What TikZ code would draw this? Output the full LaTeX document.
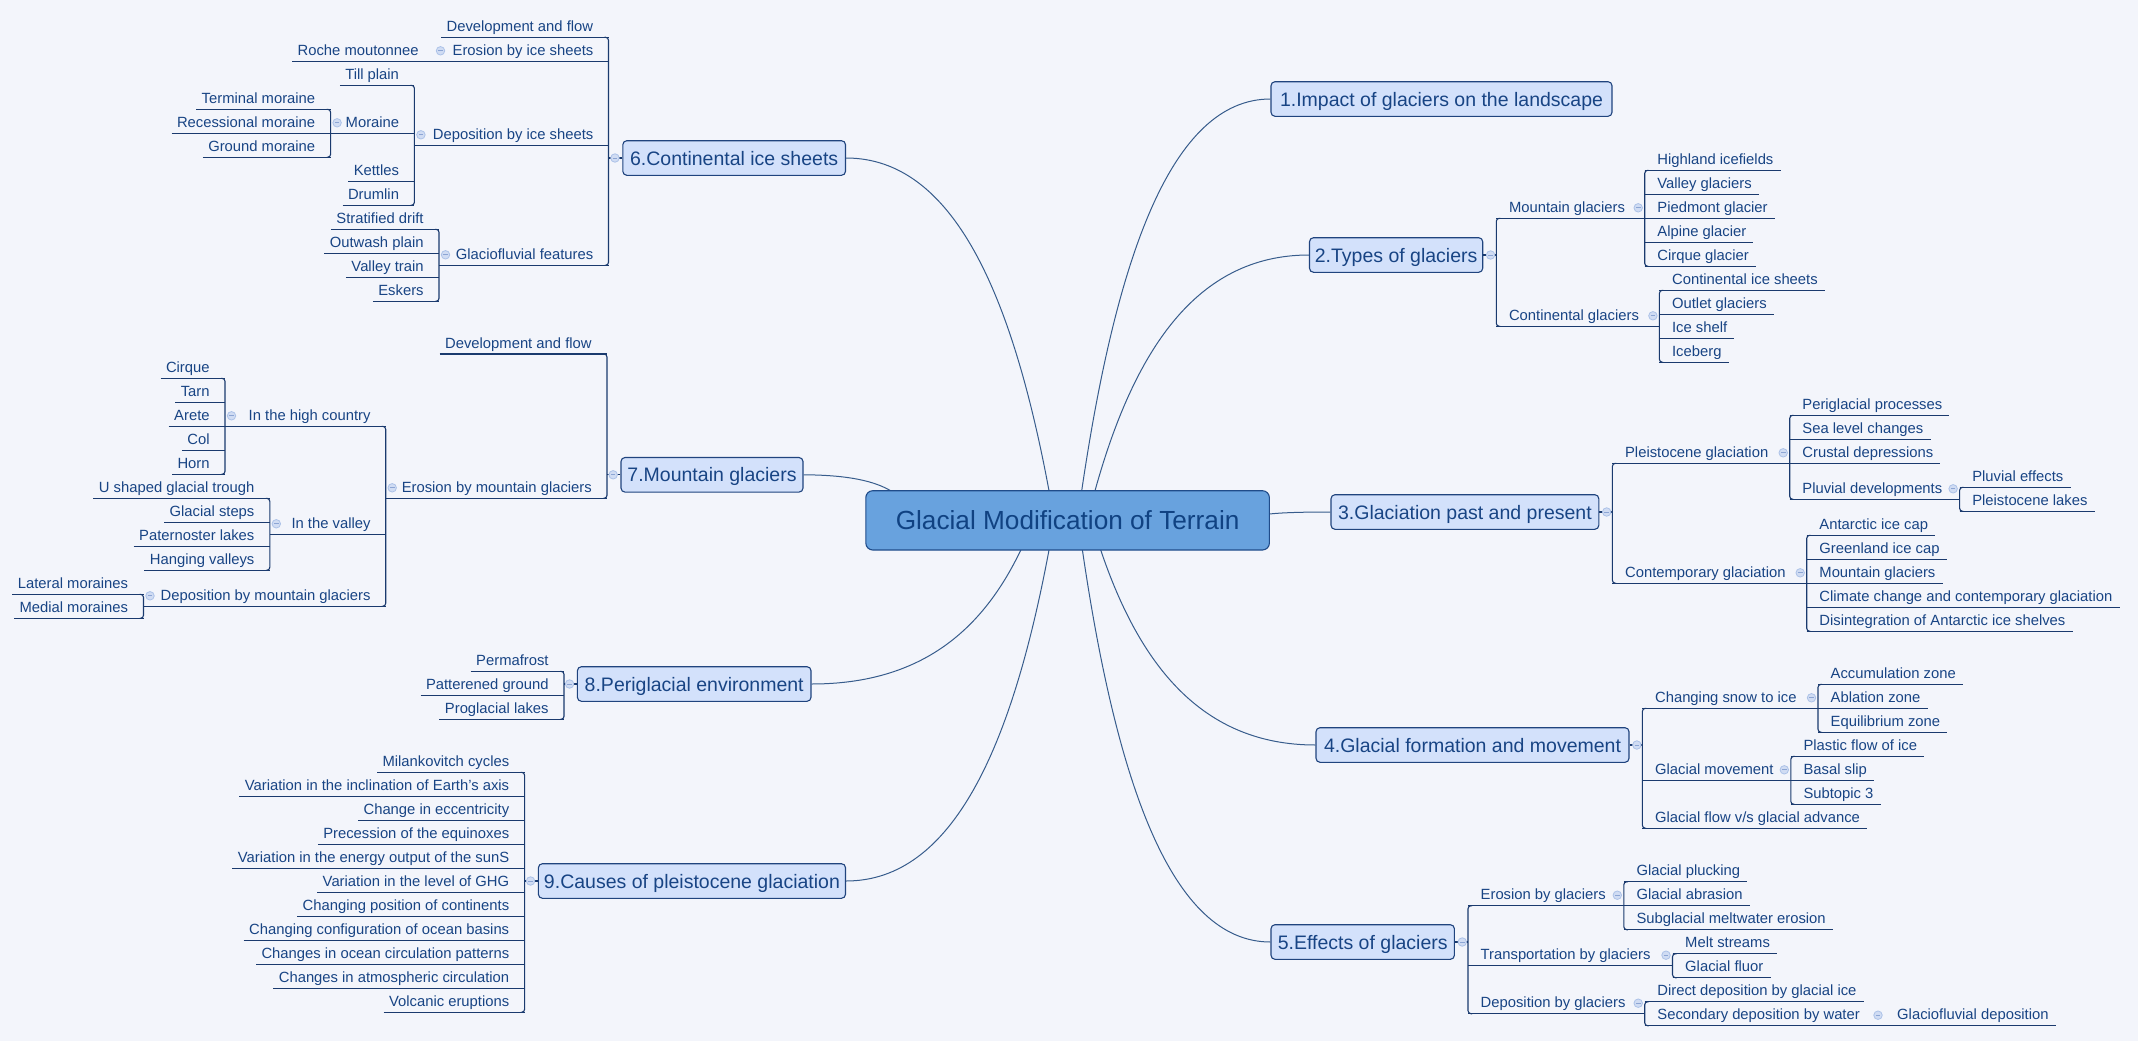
\documentclass[tikz,border=0pt]{standalone}
\usepackage{fontspec}
\setmainfont{Liberation Sans}
\usetikzlibrary{calc}
\definecolor{bgc}{RGB}{243,245,251}
\definecolor{linec}{RGB}{26,58,110}
\definecolor{crvc}{RGB}{55,92,140}
\definecolor{txtc}{RGB}{24,68,132}
\definecolor{boxf}{RGB}{211,225,251}
\definecolor{boxd}{RGB}{32,68,126}
\definecolor{rootf}{RGB}{104,162,222}
\definecolor{rootd}{RGB}{32,76,138}
\definecolor{roott}{RGB}{16,66,130}
\definecolor{togf}{RGB}{208,220,243}
\definecolor{togd}{RGB}{172,194,232}
\definecolor{togm}{RGB}{140,165,212}
\newcommand\lblfont{\fontsize{14.8}{17}\selectfont}
\newcommand\boxfont{\fontsize{19.5}{22}\selectfont}
\newcommand\rootfont{\fontsize{26.2}{30}\selectfont}
\tikzset{
 br/.style={draw=linec, line width=1.1pt},
 crv/.style={draw=crvc, line width=1pt},
 leafR/.style={anchor=south west, inner sep=0pt, text depth=5.8pt, font=\lblfont, text=txtc},
 leafL/.style={anchor=south east, inner sep=0pt, text depth=5.8pt, font=\lblfont, text=txtc},
 topic/.style={draw=boxd, fill=boxf, line width=1.1pt, rounded corners=4pt, minimum height=34.6pt, inner xsep=4pt, inner ysep=0pt, text height=14pt, text depth=0pt, font=\boxfont, text=txtc},
 rootbox/.style={draw=rootd, fill=rootf, line width=1.1pt, rounded corners=7pt, minimum width=403.6pt, minimum height=59.3pt, inner ysep=0pt, text height=18.8pt, text depth=0pt, font=\rootfont, text=roott},
 tog/.style={circle, draw=togd, fill=togf, line width=0.8pt, minimum size=8.5pt, inner sep=0pt},
 togbar/.style={draw=togm, line width=1pt},
}
% toggle circle
\newcommand\Tog[2]{\node[tog] (#1) at (#2) {}; \draw[togbar] ($(#1.center)+(-2.3,0)$) -- ($(#1.center)+(2.3,0)$);}
% right side
\newcommand\RLeaf[4]{\node[leafR] (#1) at (#2,#3) {\hspace*{12.5pt}#4\hspace*{7pt}}; \draw[br] (#1.south west) -- (#1.south east);}
\newcommand\RPar[5]{\node[leafR] (#1) at (#2,#3) {\hspace*{12.5pt}#4}; \coordinate (#1v) at (#5,#3); \draw[br] (#1.south west) -- (#1v); \Tog{t#1}{$(#1v)+(-6.5,-10.5)$}}
\newcommand\RBkt[2]{\draw[br,rounded corners=3pt] ($(#1.south west)+(4,0)$) -- (#1.south west) -- (#2.south west) -- ($(#2.south west)+(4,0)$);}
\newcommand\RMain[2]{\draw[br] (#1.east) -- (#1.east -| #2.west); \Tog{t#1}{$(#1.east)+(7.3,0)$}}
% left side
\newcommand\LLeaf[4]{\node[leafL] (#1) at (#2,#3) {\hspace*{5.3pt}#4\hspace*{15.2pt}}; \draw[br] (#1.south west) -- (#1.south east);}
\newcommand\LPar[5]{\node[leafL] (#1) at (#2,#3) {#4\hspace*{15pt}}; \coordinate (#1v) at (#5,#3); \draw[br] (#1v) -- (#1.south east); \Tog{t#1}{$(#1v)+(6.5,-10.5)$}}
\newcommand\LBkt[2]{\draw[br,rounded corners=3pt] ($(#1.south east)+(-4,0)$) -- (#1.south east) -- (#2.south east) -- ($(#2.south east)+(-4,0)$);}
\newcommand\LMain[2]{\draw[br] (#1.west) -- (#1.west -| #2.east); \Tog{t#1}{$(#1.west)+(-7.3,0)$}}
\begin{document}
\begin{tikzpicture}[x=1pt,y=-1pt]
\fill[bgc] (0,0) rectangle (2138,1041);
\useasboundingbox (0,0) rectangle (2138,1041);

% ---------- main topics ----------
\node[topic, minimum width=341pt] (b1) at (1441.5,99) {1.Impact of glaciers on the landscape};
\node[topic, minimum width=173.2pt] (b2) at (1396.1,255) {2.Types of glaciers};
\node[topic, minimum width=267.8pt] (b3) at (1464.9,512) {3.Glaciation past and present};
\node[topic, minimum width=313pt] (b4) at (1472.5,745) {4.Glacial formation and movement};
\node[topic, minimum width=183.4pt] (b5) at (1362.7,942) {5.Effects of glaciers};
\node[topic, minimum width=222.7pt] (b6) at (734.15,158) {6.Continental ice sheets};
\node[topic, minimum width=182pt] (b7) at (712,474.8) {7.Mountain glaciers};
\node[topic, minimum width=233.6pt] (b8) at (694.2,684) {8.Periglacial environment};
\node[topic, minimum width=307.1pt] (b9) at (691.95,881) {9.Causes of pleistocene glaciation};

% ---------- curves from root ----------
\coordinate (s1) at (1081.7,490.7);
\coordinate (s2) at (1095,490.7);
\coordinate (s3) at (1269.4,514);
\coordinate (s4) at (1100.7,550);
\coordinate (s5) at (1082.4,550);
\coordinate (s6) at (1049,490.7);
\coordinate (s7) at (890.6,490.7);
\coordinate (s8) at (1020.8,550);
\coordinate (s9) at (1049,550);
\draw[crv] (s1) .. controls (1115.8,259.6) and (1170.7,99) .. (b1.west);
\draw[crv] (s2) .. controls (1133.6,351.6) and (1195.8,255) .. (b2.west);
\draw[crv] (s3) .. controls (1280.5,512.8) and (1298.4,512) .. (b3.west);
\draw[crv] (s4) .. controls (1139.5,665) and (1201.9,745) .. (b4.west);
\draw[crv] (s5) .. controls (1116.3,781.3) and (1171,942) .. (b5.west);
\draw[crv] (s6) .. controls (1012.4,294.4) and (953.4,158) .. (b6.east);
\draw[crv] (s7) .. controls (874.8,481.4) and (849.4,475) .. (b7.east);
\draw[crv] (s8) .. controls (983.0,629.1) and (922.2,684) .. (b8.east);
\draw[crv] (s9) .. controls (1012.4,745.3) and (953.4,881) .. (b9.east);

\node[rootbox] (root) at (1067.6,520.35) {Glacial Modification of Terrain};

% ---------- 2. Types of glaciers ----------
\RPar{m2a}{1496.3}{218.3}{Mountain glaciers}{1644.7}
\RLeaf{l2a1}{1644.7}{170.3}{Highland icefields}
\RLeaf{l2a2}{1644.7}{194.3}{Valley glaciers}
\RLeaf{l2a3}{1644.7}{218.3}{Piedmont glacier}
\RLeaf{l2a4}{1644.7}{242.3}{Alpine glacier}
\RLeaf{l2a5}{1644.7}{266.3}{Cirque glacier}
\RBkt{l2a1}{l2a5}
\RPar{m2b}{1496.3}{326.3}{Continental glaciers}{1659.4}
\RLeaf{l2b1}{1659.4}{290.3}{Continental ice sheets}
\RLeaf{l2b2}{1659.4}{314.3}{Outlet glaciers}
\RLeaf{l2b3}{1659.4}{338.3}{Ice shelf}
\RLeaf{l2b4}{1659.4}{362.3}{Iceberg}
\RBkt{l2b1}{l2b4}
\RBkt{m2a}{m2b}
\RMain{b2}{m2a}

% ---------- 3. Glaciation past and present ----------
\RPar{m3a}{1612.4}{463.3}{Pleistocene glaciation}{1789.7}
\RLeaf{l3a1}{1789.7}{415.3}{Periglacial processes}
\RLeaf{l3a2}{1789.7}{439.3}{Sea level changes}
\RLeaf{l3a3}{1789.7}{463.3}{Crustal depressions}
\RPar{l3a4}{1789.7}{499.3}{Pluvial developments}{1959.6}
\RLeaf{l3a41}{1959.6}{487.3}{Pluvial effects}
\RLeaf{l3a42}{1959.6}{511.3}{Pleistocene lakes}
\RBkt{l3a41}{l3a42}
\RBkt{l3a1}{l3a4}
\RPar{m3b}{1612.4}{583.3}{Contemporary glaciation}{1806.7}
\RLeaf{l3b1}{1806.7}{535.3}{Antarctic ice cap}
\RLeaf{l3b2}{1806.7}{559.3}{Greenland ice cap}
\RLeaf{l3b3}{1806.7}{583.3}{Mountain glaciers}
\RLeaf{l3b4}{1806.7}{607.3}{Climate change and contemporary glaciation}
\RLeaf{l3b5}{1806.7}{631.3}{Disintegration of Antarctic ice shelves}
\RBkt{l3b1}{l3b5}
\RBkt{m3a}{m3b}
\RMain{b3}{m3a}

% ---------- 4. Glacial formation and movement ----------
\RPar{m4a}{1642.4}{708.3}{Changing snow to ice}{1818}
\RLeaf{l4a1}{1818}{684.3}{Accumulation zone}
\RLeaf{l4a2}{1818}{708.3}{Ablation zone}
\RLeaf{l4a3}{1818}{732.3}{Equilibrium zone}
\RBkt{l4a1}{l4a3}
\RPar{m4b}{1642.4}{780.3}{Glacial movement}{1790.8}
\RLeaf{l4b1}{1790.8}{756.3}{Plastic flow of ice}
\RLeaf{l4b2}{1790.8}{780.3}{Basal slip}
\RLeaf{l4b3}{1790.8}{804.3}{Subtopic 3}
\RBkt{l4b1}{l4b3}
\RLeaf{m4c}{1642.4}{828.3}{Glacial flow v/s glacial advance}
\RBkt{m4a}{m4c}
\RMain{b4}{m4a}

% ---------- 5. Effects of glaciers ----------
\RPar{m5a}{1468}{905.7}{Erosion by glaciers}{1623.8}
\RLeaf{l5a1}{1623.8}{881.7}{Glacial plucking}
\RLeaf{l5a2}{1623.8}{905.7}{Glacial abrasion}
\RLeaf{l5a3}{1623.8}{929.7}{Subglacial meltwater erosion}
\RBkt{l5a1}{l5a3}
\RPar{m5b}{1468}{965.7}{Transportation by glaciers}{1672.5}
\RLeaf{l5b1}{1672.5}{953.7}{Melt streams}
\RLeaf{l5b2}{1672.5}{977.7}{Glacial fluor}
\RBkt{l5b1}{l5b2}
\RPar{m5c}{1468}{1013.7}{Deposition by glaciers}{1644.7}
\RLeaf{l5c1}{1644.7}{1001.7}{Direct deposition by glacial ice}
\RPar{l5c2}{1644.7}{1025.7}{Secondary deposition by water}{1884.5}
\RLeaf{l5c21}{1884.5}{1025.7}{Glaciofluvial deposition}
\RBkt{l5c1}{l5c2}
\RBkt{m5a}{m5c}
\RMain{b5}{m5a}

% ---------- 6. Continental ice sheets ----------
\LLeaf{m6a}{608.5}{37.3}{Development and flow}
\LPar{m6b}{608.5}{61.3}{Erosion by ice sheets}{434}
\LLeaf{l6b1}{434}{61.3}{Roche moutonnee}
\LPar{m6c}{608.5}{145.3}{Deposition by ice sheets}{414.4}
\LLeaf{l6c1}{414.4}{85.3}{Till plain}
\LPar{l6c2}{414.4}{133.3}{Moraine}{330.6}
\LLeaf{l6c21}{330.6}{109.3}{Terminal moraine}
\LLeaf{l6c22}{330.6}{133.3}{Recessional moraine}
\LLeaf{l6c23}{330.6}{157.3}{Ground moraine}
\LBkt{l6c21}{l6c23}
\LLeaf{l6c3}{414.4}{181.3}{Kettles}
\LLeaf{l6c4}{414.4}{205.3}{Drumlin}
\LBkt{l6c1}{l6c4}
\LPar{m6d}{608.5}{265.3}{Glaciofluvial features}{439}
\LLeaf{l6d1}{439}{229.3}{Stratified drift}
\LLeaf{l6d2}{439}{253.3}{Outwash plain}
\LLeaf{l6d3}{439}{277.3}{Valley train}
\LLeaf{l6d4}{439}{301.3}{Eskers}
\LBkt{l6d1}{l6d4}
\LBkt{m6a}{m6d}
\LMain{b6}{m6a}

% ---------- 7. Mountain glaciers ----------
\LLeaf{m7a}{607}{354}{Development and flow}
\LPar{m7b}{607}{498.3}{Erosion by mountain glaciers}{385.7}
\LPar{l7b1}{385.7}{426.3}{In the high country}{225}
\LLeaf{l7b11}{225}{378.3}{Cirque}
\LLeaf{l7b12}{225}{402.3}{Tarn}
\LLeaf{l7b13}{225}{426.3}{Arete}
\LLeaf{l7b14}{225}{450.3}{Col}
\LLeaf{l7b15}{225}{474.3}{Horn}
\LBkt{l7b11}{l7b15}
\LPar{l7b2}{385.7}{534.3}{In the valley}{269.8}
\LLeaf{l7b21}{269.8}{498.3}{U shaped glacial trough}
\LLeaf{l7b22}{269.8}{522.3}{Glacial steps}
\LLeaf{l7b23}{269.8}{546.3}{Paternoster lakes}
\LLeaf{l7b24}{269.8}{570.3}{Hanging valleys}
\LBkt{l7b21}{l7b24}
\LPar{l7b3}{385.7}{606.3}{Deposition by mountain glaciers}{143.5}
\LLeaf{l7b31}{143.5}{594.3}{Lateral moraines}
\LLeaf{l7b32}{143.5}{618.3}{Medial moraines}
\LBkt{l7b31}{l7b32}
\LBkt{l7b1}{l7b3}
\LBkt{m7a}{m7b}
\LMain{b7}{m7a}

% ---------- 8. Periglacial environment ----------
\LLeaf{m8a}{564}{671.3}{Permafrost}
\LLeaf{m8b}{564}{695.3}{Patterened ground}
\LLeaf{m8c}{564}{719.3}{Proglacial lakes}
\LBkt{m8a}{m8c}
\LMain{b8}{m8a}

% ---------- 9. Causes of pleistocene glaciation ----------
\LLeaf{m9a}{524.6}{772.3}{Milankovitch cycles}
\LLeaf{m9b}{524.6}{796.3}{Variation in the inclination of Earth's axis}
\LLeaf{m9c}{524.6}{820.3}{Change in eccentricity}
\LLeaf{m9d}{524.6}{844.3}{Precession of the equinoxes}
\LLeaf{m9e}{524.6}{868.3}{Variation in the energy output of the sunS}
\LLeaf{m9f}{524.6}{892.3}{Variation in the level of GHG}
\LLeaf{m9g}{524.6}{916.3}{Changing position of continents}
\LLeaf{m9h}{524.6}{940.3}{Changing configuration of ocean basins}
\LLeaf{m9i}{524.6}{964.3}{Changes in ocean circulation patterns}
\LLeaf{m9j}{524.6}{988.3}{Changes in atmospheric circulation}
\LLeaf{m9k}{524.6}{1012.3}{Volcanic eruptions}
\LBkt{m9a}{m9k}
\LMain{b9}{m9a}
\end{tikzpicture}
\end{document}
